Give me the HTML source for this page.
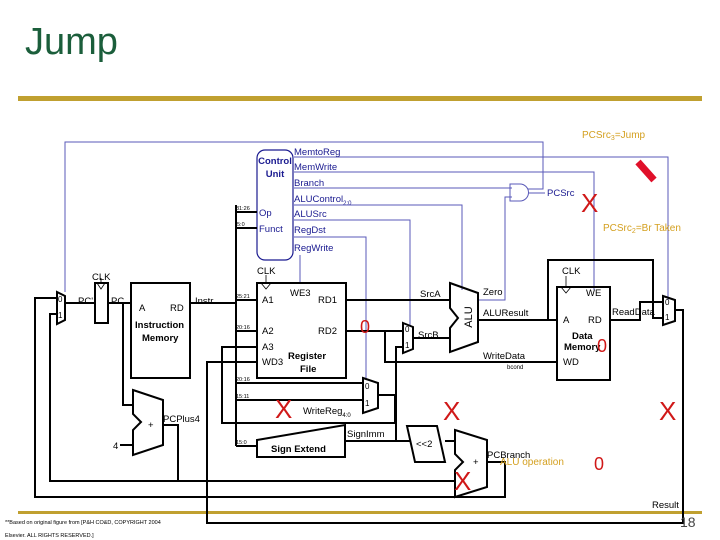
<!DOCTYPE html>
<html><head><meta charset="utf-8"><style>
html,body{margin:0;padding:0;background:#fff;}
svg{display:block;font-family:"Liberation Sans",sans-serif;}
</style></head><body>
<svg width="720" height="540" viewBox="0 0 720 540" xmlns="http://www.w3.org/2000/svg">
<text x="25" y="54" font-size="38" fill="#1b5e3b">Jump</text>
<rect x="18" y="96" width="684" height="5" fill="#c0a030"/>
<rect x="18" y="511" width="684" height="3" fill="#c0a030"/>

<!-- blue control wires -->
<g stroke="#5a5ab8" stroke-width="1" fill="none">
<polyline points="65,292 65,142 543,142 543,189 528,189"/>
<polyline points="294,157 668,157 668,300"/>
<polyline points="294,172 594,172 594,290"/>
<polyline points="294,188 512,188"/>
<polyline points="294,205 462,205 462,290"/>
<polyline points="294,220 410,220 410,326"/>
<polyline points="294,237 366,237 366,380"/>
<polyline points="300,255 300,283"/>
<polyline points="478,300 505,300 505,197 512,197"/>
<polyline points="528,193 545,193"/>
<path d="M510,184 L520,184 A8,8 0 0 1 520,201 L510,201 Z"/>
</g>
<rect x="257" y="150" width="36" height="110" rx="8" fill="none" stroke="#1a1a90" stroke-width="1.2"/>
<g fill="#1a1a90" font-size="9.5">
<text x="275" y="164" text-anchor="middle" font-weight="bold">Control</text>
<text x="275" y="177" text-anchor="middle" font-weight="bold">Unit</text>
<text x="259" y="216">Op</text><text x="259" y="232">Funct</text>
<text x="294" y="155">MemtoReg</text><text x="294" y="170">MemWrite</text>
<text x="294" y="186">Branch</text><text x="294" y="202">ALUControl<tspan font-size="6" dy="3">2:0</tspan></text>
<text x="294" y="217">ALUSrc</text><text x="294" y="233">RegDst</text>
<text x="294" y="251">RegWrite</text>
<text x="547" y="196">PCSrc</text>
</g>

<!-- black datapath -->
<g stroke="#000" stroke-width="2" fill="none">
<polyline points="57,298 35,298 35,497 505,497 505,462 487,462"/>
<polyline points="57,314 50,314 50,481 455,481"/>
<polyline points="163,425 178,425 178,481"/>
<polyline points="65,303 95,303"/><polyline points="108,303 131,303"/>
<polyline points="123,303 123,405 133,405"/>
<polyline points="120,445 133,445"/>
<polyline points="190,303 236,303"/>
<polyline points="236,205 236,446"/>
<polyline points="236,212 257,212"/><polyline points="236,228 257,228"/>
<polyline points="236,300 257,300"/><polyline points="236,331 257,331"/>
<polyline points="236,383 363,383"/><polyline points="236,400 363,400"/>
<polyline points="236,446 257,446"/>
<polyline points="378,395 395,395 395,423 222,423 222,347 257,347"/>
<polyline points="257,362 207,362 207,523 683,523 683,310 675,310"/>
<polyline points="346,300 450,300"/>
<polyline points="346,331 403,331"/>
<polyline points="385,331 385,362 557,362"/>
<polyline points="345,441 410,441"/><polyline points="396,441 396,347 403,347"/>
<polyline points="445,441 455,441"/>
<polyline points="413,338 450,338"/>
<polyline points="478,320 557,320"/>
<polyline points="548,320 548,260 653,260 653,318 663,318"/>
<polyline points="610,320 640,320 640,302 663,302"/>
<polygon points="57,292 65,296 65,320 57,324"/>
<rect x="95" y="283" width="13" height="40"/>
<rect x="131" y="283" width="59" height="95"/>
<rect x="257" y="283" width="89" height="95"/>
<polygon points="403,323 413,327 413,349 403,353"/>
<polygon points="363,378 378,383 378,408 363,413"/>
<polygon points="450,283 478,293 478,342 450,352 450,328 458,318 450,308"/>
<polygon points="133,390 163,400 163,445 133,455 133,430 141,422 133,414"/>
<polygon points="455,430 487,440 487,487 455,497 455,470 463,462 455,454"/>
<polygon points="257,440 345,425 345,457 257,457"/>
<polygon points="407,426 437,426 445,462 415,462"/>
<rect x="557" y="287" width="53" height="93"/>
<polygon points="663,296 675,300 675,321 663,325"/>
</g>
<g stroke="#000" stroke-width="0.8" fill="none">
<polyline points="97,283 101,289 105,283"/><polyline points="261,283 266,289 271,283"/>
<polyline points="561,287 566,293 571,287"/>
<line x1="101" y1="278" x2="101" y2="283"/><line x1="266" y1="275" x2="266" y2="283"/><line x1="566" y1="276" x2="566" y2="287"/>
</g>
<g font-size="9.5" fill="#000">
<text x="58" y="302" font-size="8">0</text><text x="58" y="318" font-size="8">1</text>
<text x="78" y="304">PC'</text><text x="92" y="280">CLK</text><text x="111" y="304">PC</text>
<text x="139" y="311">A</text><text x="170" y="311">RD</text>
<text x="135" y="328" font-weight="bold">Instruction</text><text x="142" y="341" font-weight="bold">Memory</text>
<text x="195" y="304">Instr</text>
<text x="257" y="274">CLK</text><text x="290" y="296">WE3</text>
<text x="262" y="303">A1</text><text x="318" y="303">RD1</text>
<text x="262" y="334">A2</text><text x="318" y="334">RD2</text>
<text x="262" y="350">A3</text><text x="262" y="365">WD3</text>
<text x="288" y="359" font-weight="bold">Register</text><text x="300" y="372" font-weight="bold">File</text>
<text x="405" y="332" font-size="8">0</text><text x="405" y="348" font-size="8">1</text>
<text x="420" y="297">SrcA</text><text x="418" y="338">SrcB</text>
<text x="483" y="295">Zero</text><text x="483" y="316">ALUResult</text>
<text x="483" y="359">WriteData</text><text x="507" y="369" font-size="6">bcond</text>
<text transform="translate(472,317) rotate(-90)" text-anchor="middle" font-size="11">ALU</text>
<text x="562" y="274">CLK</text><text x="586" y="296">WE</text>
<text x="563" y="323">A</text><text x="588" y="323">RD</text>
<text x="572" y="339" font-weight="bold">Data</text><text x="564" y="350" font-weight="bold">Memory</text>
<text x="563" y="365">WD</text>
<text x="612" y="315">ReadData</text>
<text x="665" y="305" font-size="8">0</text><text x="665" y="320" font-size="8">1</text>
<text x="365" y="389" font-size="8">0</text><text x="365" y="406" font-size="8">1</text>
<text x="303" y="414">WriteReg<tspan font-size="6" dy="3">4:0</tspan></text>
<text x="271" y="452" font-weight="bold">Sign Extend</text>
<text x="347" y="437">SignImm</text>
<text x="416" y="447">&lt;&lt;2</text>
<text x="487" y="458">PCBranch</text>
<text x="473" y="465">+</text><text x="148" y="428">+</text>
<text x="163" y="422">PCPlus4</text><text x="113" y="449">4</text>
<text x="652" y="508">Result</text>
<g font-size="5.5"><text x="236" y="210">31:26</text><text x="237" y="226">5:0</text>
<text x="236" y="298">25:21</text><text x="236" y="329">20:16</text>
<text x="236" y="381">20:16</text><text x="236" y="398">15:11</text><text x="236" y="444">15:0</text></g>
</g>

<!-- annotations -->
<g fill="#d4a020" font-size="10">
<text x="582" y="138">PCSrc<tspan font-size="7" dy="2">3</tspan><tspan dy="-2">=Jump</tspan></text>
<text x="603" y="231">PCSrc<tspan font-size="7" dy="2">2</tspan><tspan dy="-2">=Br Taken</tspan></text>
<text x="500" y="465">ALU operation</text>
</g>
<line x1="638" y1="162" x2="654" y2="180" stroke="#e0102a" stroke-width="7"/>
<g fill="#d01818" font-size="26">
<text x="581" y="212">X</text><text x="275" y="418">X</text><text x="443" y="420">X</text>
<text x="659" y="420">X</text><text x="454" y="490">X</text>
</g>
<g fill="#d01818" font-size="18">
<text x="360" y="333">0</text><text x="597" y="352">0</text><text x="594" y="470">0</text>
</g>
<g font-size="5.5" fill="#000">
<text x="5" y="524">**Based on original figure from [P&amp;H CO&amp;D, COPYRIGHT 2004</text>
<text x="5" y="537">Elsevier. ALL RIGHTS RESERVED.]</text>
</g>
<text x="680" y="527" font-size="14" fill="#444">18</text>
</svg>
</body></html>
